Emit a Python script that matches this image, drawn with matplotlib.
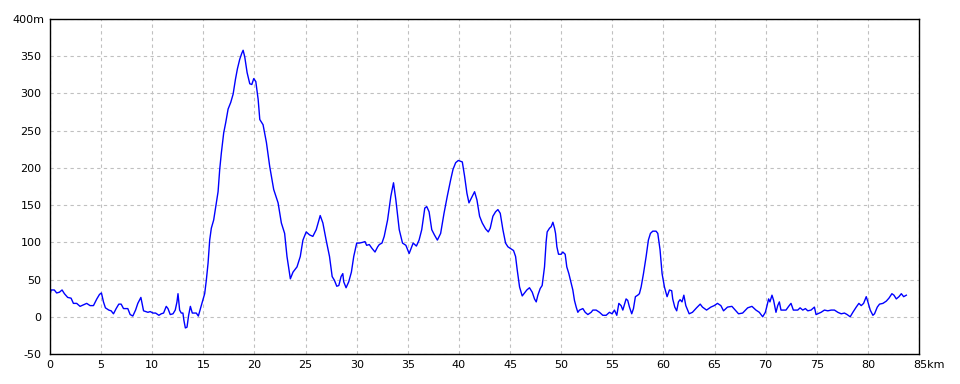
import matplotlib
matplotlib.use("Agg")
import matplotlib.pyplot as plt
from matplotlib.transforms import ScaledTranslation

dist_km = [0, 0.1, 0.42, 0.65, 0.92, 1.18, 1.41, 1.73, 2.06, 2.29, 2.61, 2.94, 3.27, 3.59, 3.92, 4.25,
           4.58, 4.84, 5.03, 5.23, 5.42, 5.75, 5.98, 6.21, 6.47, 6.73, 6.96, 7.19, 7.61, 7.84, 8.1,
           8.37, 8.59, 8.89, 9.15, 9.58, 9.8, 10.07, 10.33, 10.65, 10.88, 11.11, 11.37, 11.54, 11.76,
           12.03, 12.25, 12.42, 12.52, 12.68, 12.84, 13.0, 13.1, 13.24, 13.4, 13.56, 13.73, 13.92,
           14.31, 14.51, 14.71, 14.9, 15.13, 15.29, 15.46, 15.62, 15.78, 16.01, 16.21, 16.44, 16.6,
           16.76, 16.99, 17.19, 17.42, 17.68, 17.91, 18.14, 18.33, 18.56, 18.76, 18.89, 19.05, 19.28,
           19.54, 19.74, 19.93, 20.13, 20.36, 20.52, 20.84, 21.17, 21.49, 21.88, 22.31, 22.63, 22.95,
           23.18, 23.51, 23.77, 24.16, 24.48, 24.74, 25.06, 25.39, 25.71, 26.04, 26.43, 26.69, 27.01,
           27.34, 27.6, 27.82, 28.05, 28.25, 28.47, 28.64, 28.73, 28.96, 29.22, 29.48, 29.71, 30.0,
           30.26, 30.58, 30.81, 30.97, 31.23, 31.49, 31.79, 32.05, 32.21, 32.47, 32.69, 33.02, 33.34,
           33.6, 33.83, 34.16, 34.48, 34.81, 35.13, 35.52, 35.84, 36.1, 36.36, 36.66, 36.85, 37.08,
           37.34, 37.6, 37.89, 38.21, 38.54, 38.86, 39.19, 39.42, 39.68, 39.94, 40.33, 40.55, 40.78,
           40.98, 41.2, 41.53, 41.76, 42.02, 42.28, 42.61, 42.87, 43.06, 43.32, 43.58, 43.81, 44.04,
           44.3, 44.56, 44.79, 45.11, 45.34, 45.54, 45.7, 45.93, 46.19, 46.42, 46.64, 46.9, 47.17,
           47.39, 47.56, 47.72, 47.95, 48.14, 48.37, 48.53, 48.63, 48.86, 49.02, 49.19, 49.35, 49.45,
           49.58, 49.74, 50.0, 50.16, 50.39, 50.55, 50.75, 50.98, 51.14, 51.3, 51.47, 51.63, 51.79,
           52.12, 52.35, 52.61, 52.93, 53.1, 53.42, 53.75, 54.07, 54.4, 54.72, 54.98, 55.21, 55.44,
           55.64, 55.86, 56.03, 56.35, 56.51, 56.68, 56.9, 57.07, 57.26, 57.49, 57.65, 57.82, 58.05,
           58.31, 58.53, 58.73, 58.96, 59.28, 59.45, 59.67, 59.87, 60.1, 60.36, 60.59, 60.81, 60.91,
           61.11, 61.3, 61.47, 61.63, 61.82, 62.0, 62.19, 62.52, 62.84, 63.24, 63.6, 63.82, 64.22,
           64.64, 64.97, 65.29, 65.62, 65.88, 66.27, 66.7, 67.03, 67.35, 67.75, 68.24, 68.66, 69.05,
           69.38, 69.71, 69.97, 70.1, 70.29, 70.42, 70.62, 70.78, 71.01, 71.18, 71.34, 71.5, 71.99,
           72.25, 72.48, 72.71, 73.14, 73.37, 73.63, 73.89, 74.12, 74.44, 74.77, 74.93, 75.1, 75.42,
           75.75, 76.08, 76.41, 76.73, 77.06, 77.39, 77.71, 77.97, 78.27, 78.53, 78.86, 79.12, 79.35,
           79.58, 79.84, 80.0, 80.23, 80.49, 80.65, 80.92, 81.14, 81.47, 81.8, 82.06, 82.35, 82.55,
           82.78, 83.04, 83.27, 83.5, 83.76]

elev_m = [29, 36, 36, 32, 33, 36, 31, 26, 25, 18, 18, 14, 16, 18, 15, 15,
          24, 30, 32, 20, 12, 9, 8, 4, 11, 17, 17, 11, 11, 3, 1,
          9, 18, 26, 8, 6, 7, 5, 5, 2, 4, 5, 14, 11, 3,
          4, 9, 20, 31, 9, 5, 5, -5, -15, -14, 2, 14, 5,
          5, 1, 11, 20, 31, 49, 72, 103, 119, 130, 148, 168, 198,
          220, 247, 261, 279, 288, 299, 319, 333, 346, 354, 358, 349, 328,
          313, 312, 320, 316, 292, 265, 258, 234, 202, 171, 153, 126, 112,
          81, 51, 60, 67, 81, 103, 114, 110, 108, 117, 136, 126, 103,
          81, 54, 49, 41, 42, 54, 58, 47, 39, 47, 60, 81, 99,
          99, 100, 101, 96, 97, 92, 87, 94, 97, 99, 108, 130, 162,
          180, 157, 117, 99, 96, 85, 99, 95, 103, 117, 146, 148, 141,
          117, 110, 103, 112, 139, 162, 184, 198, 207, 210, 208, 189, 166,
          153, 159, 168, 157, 135, 126, 118, 114, 119, 135, 141, 144, 139,
          117, 99, 94, 91, 89, 81, 63, 40, 28, 32, 36, 39, 33,
          24, 20, 29, 38, 42, 67, 101, 114, 119, 121, 127, 119, 112,
          94, 84, 84, 87, 84, 67, 58, 45, 36, 22, 13, 6, 9,
          11, 6, 3, 6, 9, 9, 6, 2, 2, 6, 4, 9, 2,
          18, 15, 9, 24, 22, 13, 4, 11, 27, 29, 31, 40, 58,
          81, 103, 112, 115, 115, 112, 90, 58, 40, 27, 36, 35, 24,
          13, 8, 20, 23, 20, 29, 15, 4, 6, 12, 17, 13, 9,
          13, 15, 18, 15, 8, 13, 14, 9, 4, 5, 12, 14, 9,
          6, 0, 6, 13, 24, 20, 29, 22, 6, 15, 20, 9, 9,
          14, 18, 9, 9, 12, 9, 11, 8, 9, 13, 3, 4, 6,
          9, 8, 9, 9, 6, 4, 5, 3, 0, 6, 13, 18, 15,
          18, 27, 20, 9, 2, 4, 13, 17, 18, 21, 25, 31, 29,
          24, 27, 31, 27, 29]

x_ticks = list(range(0, 90, 5))
x_labels = [str(v) for v in x_ticks[:-1]] + ["85km"]
y_ticks = list(range(-50, 450, 50))
y_labels = [str(v) for v in y_ticks[:-1]] + ["400m"]

plt.rcParams['font.family'] = ['DejaVu Sans']
fig = plt.figure(figsize=(9.6, 3.84), dpi=100)
ax = fig.add_axes([50/960, 30/384, 869/960, 335/384])
ax.plot(dist_km, elev_m, color="#0000ff", linewidth=1.0)
ax.set_xlim(0, 85)
ax.set_ylim(-50, 400)
ax.set_xticks(x_ticks)
ax.set_xticklabels(x_labels)
ax.set_yticks(y_ticks)
ax.set_yticklabels(y_labels)
ax.tick_params(length=0, labelsize=8)
ax.tick_params(axis='y', pad=6)
ax.tick_params(axis='x', pad=4)
ax.grid(True, color="#c0c0c0", linestyle=(0, (3, 3)), linewidth=0.8)
for s in ax.spines.values():
    s.set_color("black")
    s.set_linewidth(1.0)

# number part centered on the tick, unit hanging to the right
last_x = ax.get_xticklabels()[-1]
last_x.set_horizontalalignment('left')
last_x.set_transform(last_x.get_transform() + ScaledTranslation(-6/100, 0, fig.dpi_scale_trans))
last_y = ax.get_yticklabels()[-1]
last_y.set_transform(last_y.get_transform() + ScaledTranslation(3/100, 0, fig.dpi_scale_trans))

fig.savefig("out.png", dpi=100)
